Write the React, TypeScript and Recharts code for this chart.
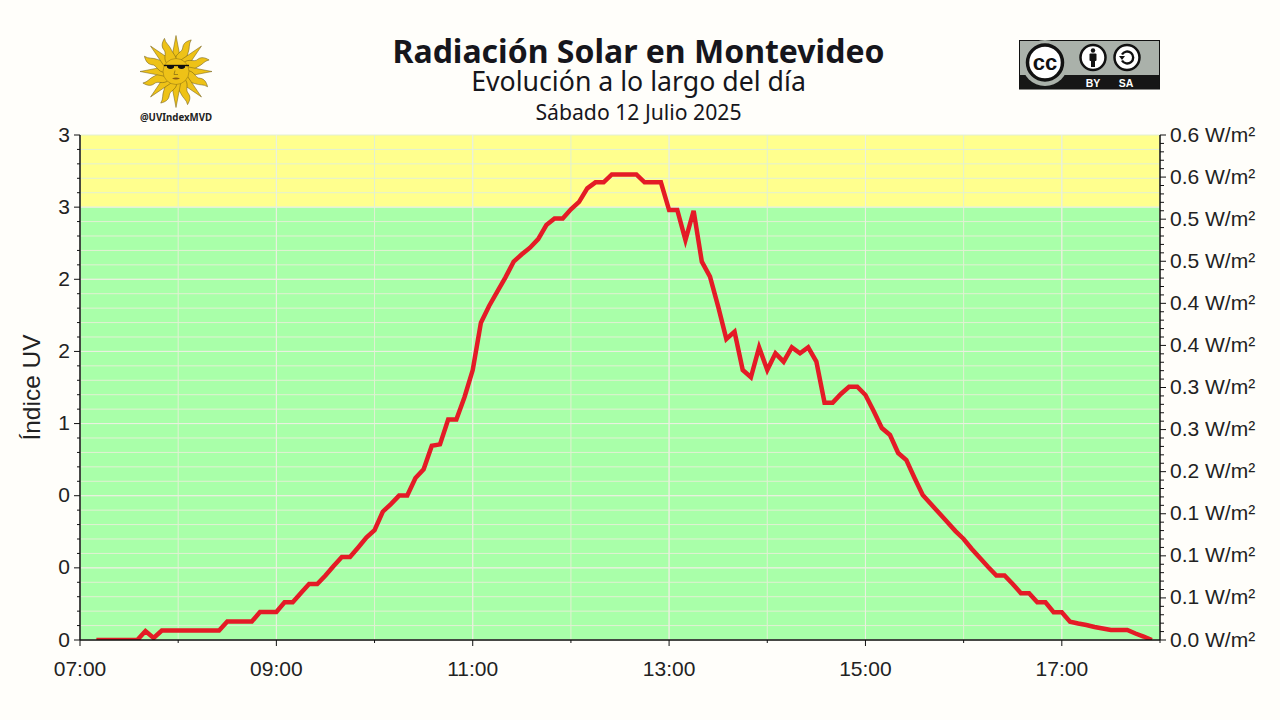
import React from "react"
import { CartesianGrid, Line, LineChart, XAxis, YAxis } from "recharts"

const BG = "#fffefa"
const INK = "#222222"
const RED = "#e41b26"
const AXIS = "#111111"
const GREEN = "#a9ffa9"
const YELLOW = "#ffff8e"
const TICK_FONT = "'Liberation Sans', Arial, sans-serif"
const TITLE_FONT = "'Noto Sans', sans-serif"

// lecturas cada 5 minutos, de 07:10 a 17:55
const times = [
  "07:10", "07:15", "07:20", "07:25", "07:30", "07:35", "07:40", "07:45", "07:50", "07:55",
  "08:00", "08:05", "08:10", "08:15", "08:20", "08:25", "08:30", "08:35", "08:40", "08:45",
  "08:50", "08:55", "09:00", "09:05", "09:10", "09:15", "09:20", "09:25", "09:30", "09:35",
  "09:40", "09:45", "09:50", "09:55", "10:00", "10:05", "10:10", "10:15", "10:20", "10:25",
  "10:30", "10:35", "10:40", "10:45", "10:50", "10:55", "11:00", "11:05", "11:10", "11:15",
  "11:20", "11:25", "11:30", "11:35", "11:40", "11:45", "11:50", "11:55", "12:00", "12:05",
  "12:10", "12:15", "12:20", "12:25", "12:30", "12:35", "12:40", "12:45", "12:50", "12:55",
  "13:00", "13:05", "13:10", "13:15", "13:20", "13:25", "13:30", "13:35", "13:40", "13:45",
  "13:50", "13:55", "14:00", "14:05", "14:10", "14:15", "14:20", "14:25", "14:30", "14:35",
  "14:40", "14:45", "14:50", "14:55", "15:00", "15:05", "15:10", "15:15", "15:20", "15:25",
  "15:30", "15:35", "15:40", "15:45", "15:50", "15:55", "16:00", "16:05", "16:10", "16:15",
  "16:20", "16:25", "16:30", "16:35", "16:40", "16:45", "16:50", "16:55", "17:00", "17:05",
  "17:10", "17:15", "17:20", "17:25", "17:30", "17:35", "17:40", "17:45", "17:50", "17:55",
]
const uvIndex = [
  0, 0, 0, 0, 0, 0, 0.062, 0.014, 0.066, 0.066,
  0.066, 0.066, 0.066, 0.066, 0.066, 0.066, 0.128, 0.128, 0.128, 0.128,
  0.194, 0.194, 0.194, 0.261, 0.261, 0.326, 0.388, 0.388, 0.447, 0.513,
  0.575, 0.575, 0.641, 0.71, 0.762, 0.889, 0.942, 1.001, 1.001, 1.123,
  1.183, 1.346, 1.356, 1.528, 1.528, 1.684, 1.871, 2.199, 2.315, 2.414,
  2.513, 2.622, 2.673, 2.719, 2.779, 2.876, 2.922, 2.922, 2.985, 3.037,
  3.13, 3.172, 3.172, 3.227, 3.227, 3.227, 3.227, 3.172, 3.172, 3.172,
  2.98, 2.98, 2.772, 2.975, 2.622, 2.518, 2.31, 2.086, 2.137, 1.871,
  1.821, 2.028, 1.871, 1.987, 1.929, 2.028, 1.987, 2.028, 1.929, 1.645,
  1.645, 1.705, 1.755, 1.755, 1.698, 1.587, 1.469, 1.421, 1.296, 1.247,
  1.123, 1.005, 0.942, 0.88, 0.818, 0.755, 0.7, 0.631, 0.568, 0.506,
  0.447, 0.447, 0.388, 0.324, 0.324, 0.261, 0.261, 0.192, 0.192, 0.127,
  0.114, 0.104, 0.09, 0.08, 0.069, 0.069, 0.069, 0.045, 0.024, 0,
]

const hourTicks = [420, 480, 540, 600, 660, 720, 780, 840, 900, 960, 1020, 1080]
const hourLabels = ["07:00", "", "09:00", "", "11:00", "", "13:00", "", "15:00", "", "17:00", ""]
const majorHours = [420, 540, 660, 780, 900, 1020]

const uvTicks = [
  0, 0.1, 0.2, 0.3, 0.4, 0.5, 0.6, 0.7, 0.8, 0.9, 1, 1.1, 1.2, 1.3, 1.4, 1.5, 1.6, 1.7,
  1.8, 1.9, 2, 2.1, 2.2, 2.3, 2.4, 2.5, 2.6, 2.7, 2.8, 2.9, 3, 3.1, 3.2, 3.3, 3.4, 3.5,
]
const uvLabels = ["0", "0", "0", "1", "2", "2", "3", "3"]
const majorUv = [0, 0.5, 1, 1.5, 2, 2.5, 3]

// bandas de fondo, de arriba hacia abajo: 5 de amarillo (3.0 a 3.5) y el resto verde
const bandFills = uvTicks.map((v) => (v < 0.5 ? YELLOW : GREEN))

const wattTicks = Array.from({ length: 61 }, (_, i) => i / 100)
const wattLabels = ["0.0", "0.1", "0.1", "0.1", "0.2", "0.3", "0.3", "0.4", "0.4", "0.5", "0.5", "0.6", "0.6"]

const toMinutes = (t: string) => Number(t.slice(0, 2)) * 60 + Number(t.slice(3))
const data = times.map((t, i) => ({ minute: toMinutes(t), uv: uvIndex[i] }))

function HourTick({ x, y, payload, index }: any) {
  const label = hourLabels[index ?? hourTicks.indexOf(payload.value)]
  return (
    <g>
      <line x1={x} x2={x} y1={y} y2={y + (label ? 6 : 3)} stroke={AXIS} strokeWidth={1} />
      {label && (
        <text x={x} y={y + 28} textAnchor="middle" dominantBaseline="central" fontSize={21} fontFamily={TICK_FONT} fill={INK}>
          {label}
        </text>
      )}
    </g>
  )
}

function UvTick({ x, y, payload }: any) {
  const i = Math.round(payload.value * 10)
  const major = i % 5 === 0
  return (
    <g>
      <line x1={x} x2={x - (major ? 6 : 3)} y1={y} y2={y} stroke={AXIS} strokeWidth={1} />
      {major && (
        <text x={x - 10} y={y - 1} textAnchor="end" dominantBaseline="central" fontSize={21} fontFamily={TICK_FONT} fill={INK}>
          {uvLabels[i / 5]}
        </text>
      )}
    </g>
  )
}

function WattTick({ x, y, payload }: any) {
  const i = Math.round(payload.value * 100)
  const major = i % 5 === 0
  return (
    <g>
      <line x1={x} x2={x + (major ? 6 : 4)} y1={y} y2={y} stroke={AXIS} strokeWidth={1} />
      {major && (
        <text x={x + 10} y={y - 1} dominantBaseline="central" fontSize={21} fontFamily={TICK_FONT} fill={INK}>
          {wattLabels[i / 5]} W/m²
        </text>
      )}
    </g>
  )
}

const RAY_ANGLES = [0, 22.5, 45, 67.5, 90, 112.5, 135, 157.5, 180, 202.5, 225, 247.5, 270, 292.5, 315, 337.5]

function SunLogo() {
  return (
    <g transform="translate(176 71.5)">
      {RAY_ANGLES.map((a, i) => (
        <path
          key={a}
          transform={`rotate(${a})`}
          d={i % 2 === 0
            ? "M-5,-10 L0,-36 L5,-10 Z"
            : "M-5,-10 C-8,-17 -1,-20 -3,-25 C-4,-29 -2,-32 2,-35 C1,-30 4,-27 4,-22 C4,-18 6,-15 5,-10 Z"}
          fill="#eec217"
          stroke="#6f5a14"
          strokeWidth={0.5}
        />
      ))}
      <circle r={13} fill="#eec217" stroke="#8a6f14" strokeWidth={0.5} />
      <path d="M-12,-6 L13,-6" stroke="#111" strokeWidth={1.4} />
      <path d="M-9,-6 h7 v2 q-3.5,3 -7,0 Z M2,-6 h7 v2 q-3.5,3 -7,0 Z" fill="#111" />
      <path d="M-1,-1 L-2,3 L2,3" fill="none" stroke="#6f5a14" strokeWidth={0.6} />
      <path d="M-4,7 Q0,5 4,7 Q0,9 -4,7 Z" fill="#8a5a14" />
      <text x={0} y={49.5} textAnchor="middle" fontSize={9.7} fontWeight={700} fontFamily={TITLE_FONT} fill={INK}>
        @UVIndexMVD
      </text>
    </g>
  )
}

function CcBadge() {
  return (
    <g>
      <rect x={1019.5} y={40.5} width={140} height={48.5} fill="#aab1aa" stroke="#111" strokeWidth={1} />
      <rect x={1019.5} y={75} width={140} height={14} fill="#161616" />
      <circle cx={1045} cy={63} r={23} fill="#aab1aa" />
      <circle cx={1045} cy={62.5} r={17.5} fill="#fff" stroke="#111" strokeWidth={3.5} />
      <text x={1045} y={70} textAnchor="middle" fontSize={22} fontWeight={700} fontFamily={TICK_FONT} fill="#111">cc</text>
      <circle cx={1093} cy={57.5} r={12.5} fill="#fff" stroke="#111" strokeWidth={2.5} />
      <circle cx={1093} cy={50.5} r={2.2} fill="#111" />
      <rect x={1089.5} y={53.5} width={7} height={7.5} rx={1} fill="#111" />
      <rect x={1091} y={60} width={4} height={7} fill="#111" />
      <circle cx={1127} cy={57.5} r={12.5} fill="#fff" stroke="#111" strokeWidth={2.5} />
      <path d="M1122,54.5 A6,6 0 1 1 1122,60.5" fill="none" stroke="#111" strokeWidth={2.4} />
      <path d="M1119,56 L1125,56 L1122,60 Z" fill="#111" />
      <text x={1093} y={86.5} textAnchor="middle" fontSize={10.5} fontWeight={700} fontFamily={TICK_FONT} fill="#fff">BY</text>
      <text x={1126} y={86.5} textAnchor="middle" fontSize={10.5} fontWeight={700} fontFamily={TICK_FONT} fill="#fff">SA</text>
    </g>
  )
}

export default function App() {
  return (
    <div style={{ position: "absolute", left: 0, top: 0, width: 1280, height: 720, background: BG, overflow: "hidden" }}>
      <LineChart
        width={1280}
        height={720}
        data={data}
        margin={{ top: 135, right: 0, bottom: 0, left: 0 }}
        style={{ position: "absolute", left: 0, top: 0 }}
      >
        <CartesianGrid yAxisId="uv" stroke="#e2f0d4" strokeWidth={1} horizontalFill={bandFills} fillOpacity={1} />
        <CartesianGrid yAxisId="uv" stroke="#ebf0e2" strokeWidth={1} horizontalValues={majorUv} verticalValues={majorHours} />
        <XAxis
          dataKey="minute"
          type="number"
          domain={[420, 1080]}
          ticks={hourTicks}
          interval={0}
          height={80}
          tick={<HourTick />}
          tickLine={false}
          tickSize={0}
          tickMargin={0}
          axisLine={{ stroke: AXIS, strokeWidth: 1.5 }}
        />
        <YAxis
          yAxisId="uv"
          type="number"
          width={80}
          domain={[0, 3.5]}
          allowDataOverflow
          ticks={uvTicks}
          interval={0}
          tick={<UvTick />}
          tickLine={false}
          tickSize={0}
          tickMargin={0}
          axisLine={{ stroke: AXIS, strokeWidth: 1.5 }}
          label={{ value: "Índice UV", angle: -90, position: "insideLeft", offset: 31, style: { fontSize: 24.5, fontFamily: TICK_FONT, fill: INK, textAnchor: "middle" } }}
        />
        <YAxis
          yAxisId="watt"
          orientation="right"
          type="number"
          width={120}
          domain={[0, 0.6]}
          allowDataOverflow
          ticks={wattTicks}
          interval={0}
          tick={<WattTick />}
          tickLine={false}
          tickSize={0}
          tickMargin={0}
          axisLine={{ stroke: AXIS, strokeWidth: 1.5 }}
        />
        <Line yAxisId="uv" dataKey="uv" type="linear" stroke={RED} strokeWidth={4.5} dot={false} isAnimationActive={false} />
      </LineChart>
      <svg width={1280} height={135} style={{ position: "absolute", left: 0, top: 0 }}>
        <text x={638.5} y={63} textAnchor="middle" fontSize={32} fontWeight={700} fontFamily={TITLE_FONT} fill="#16161c">
          Radiación Solar en Montevideo
        </text>
        <text x={638.5} y={91} textAnchor="middle" fontSize={26.7} fontFamily={TITLE_FONT} fill="#16161c">
          Evolución a lo largo del día
        </text>
        <text x={638.5} y={120} textAnchor="middle" fontSize={21.2} fontFamily={TITLE_FONT} fill="#16161c">
          Sábado 12 Julio 2025
        </text>
        <SunLogo />
        <CcBadge />
      </svg>
    </div>
  )
}
